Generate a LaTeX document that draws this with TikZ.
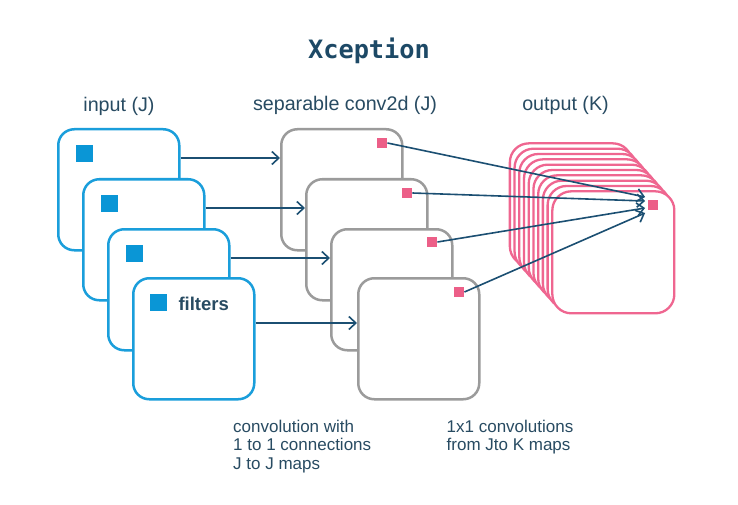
\documentclass[tikz,border=0pt]{standalone}
\usepackage{fontspec}
\setmainfont{Liberation Sans}
\newfontfamily\titlefont{DejaVu Sans Mono}
\usetikzlibrary{arrows.meta,calc}
\definecolor{bluebox}{HTML}{1A9EDB}
\definecolor{bluesq}{HTML}{0A96D6}
\definecolor{graybox}{HTML}{9B9B9B}
\definecolor{pinkbox}{HTML}{EF6690}
\definecolor{pinksq}{HTML}{EC5F88}
\definecolor{arrowc}{HTML}{1B4F72}
\definecolor{textc}{HTML}{284B62}
\definecolor{titlec}{HTML}{1D4966}
\begin{document}
\begin{tikzpicture}[x=1pt,y=-1pt,
  card/.style={draw,fill=white,rounded corners=16pt,minimum width=121pt,minimum height=121pt,anchor=north west,inner sep=0pt,line width=2.5pt},
  incard/.style={card,draw=bluebox},
  gcard/.style={card,draw=graybox},
  pcard/.style={card,draw=pinkbox,rounded corners=19pt,line width=2.3pt,minimum width=122pt,minimum height=122pt},
  bsq/.style={fill=bluesq,minimum size=17pt,inner sep=0pt,anchor=north west},
  psq/.style={fill=pinksq,minimum size=10.5pt,inner sep=0pt},
  arr/.style={draw=arrowc,line width=1.6pt,-{Straight Barb[length=7pt,width=13pt,line width=1.6pt]}},
  lbl/.style={text=textc,font=\fontsize{19.7}{23}\selectfont,anchor=base,inner sep=0pt},
  note/.style={text=textc,font=\fontsize{17}{18.3}\selectfont,align=left,anchor=north west,inner sep=0pt}
]
\fill[white] (0,0) rectangle (738,505);
\useasboundingbox (0,0) rectangle (738,505);

% title and labels
\node[anchor=base,inner sep=0pt,text=titlec,font=\titlefont\bfseries\fontsize{25.3}{30}\selectfont] (title) at (369,59) {Xception};
\node[lbl] (linput) at (119,111.5) {input (J)};
\node[lbl] (lsep) at (345,111) {separable conv2d (J)};
\node[lbl] (lout) at (565.5,111) {output (K)};

% input cards
\node[incard] (i1) at (57,128) {};
\node[bsq] (b1) at ($(i1.north west)+(19,17)$) {};
\node[incard] (i2) at (82,178) {};
\node[bsq] (b2) at ($(i2.north west)+(19,17)$) {};
\node[incard] (i3) at (107,228) {};
\node[bsq] (b3) at ($(i3.north west)+(19,17)$) {};
\node[incard] (i4) at (132,277) {};
\node[bsq] (b4) at ($(i4.north west)+(18,17)$) {};
\node[anchor=base west,inner sep=0pt,text=textc,font=\bfseries\fontsize{18.5}{22}\selectfont] (filt) at (178.3,310) {filters};

% separable cards
\node[gcard] (g1) at (280,128) {};
\node[psq] (p1) at ($(g1.north west)+(102,15)$) {};
\node[gcard] (g2) at (305,178) {};
\node[psq] (p2) at ($(g2.north west)+(102,15)$) {};
\node[gcard] (g3) at (330,228) {};
\node[psq] (p3) at ($(g3.north west)+(102,14)$) {};
\node[gcard] (g4) at (357,277) {};
\node[psq] (p4) at ($(g4.north west)+(102,15)$) {};

% arrows input -> separable
\draw[arr] ([yshift=-30pt]i1.north east) -- ([yshift=-30pt]i1.north east -| g1.west);
\draw[arr] ([yshift=-30pt]i2.north east) -- ([yshift=-30pt]i2.north east -| g2.west);
\draw[arr] ([yshift=-30pt]i3.north east) -- ([yshift=-30pt]i3.north east -| g3.west);
\draw[arr] ([yshift=-46pt]i4.north east) -- ([yshift=-46pt]i4.north east -| g4.west);

% output stack
\foreach \k in {0,...,9}{
  \node[pcard] (o\k) at ({508.7+4.72*\k},{142.2+5.33*\k}) {};
}
\node[psq,minimum size=10pt] (osq) at (653.3,205) {};
\coordinate (e1) at ($(osq.west)+(-3,-8)$);
\coordinate (e2) at ($(osq.west)+(-3,-4)$);
\coordinate (e3) at ($(osq.west)+(-3,3)$);
\coordinate (e4) at ($(osq.west)+(-3,8)$);

% arrows separable -> output
\draw[arr] (p1.east) -- (e1);
\draw[arr] (p2.east) -- (e2);
\draw[arr] (p3.east) -- (e3);
\draw[arr] (p4.east) -- (e4);

% notes
\node[note] (n1) at (233,420) {convolution with\\1 to 1 connections\\J to J maps};
\node[note] (n2) at (446.5,420) {1x1 convolutions\\from Jto K maps};
\end{tikzpicture}
\end{document}
